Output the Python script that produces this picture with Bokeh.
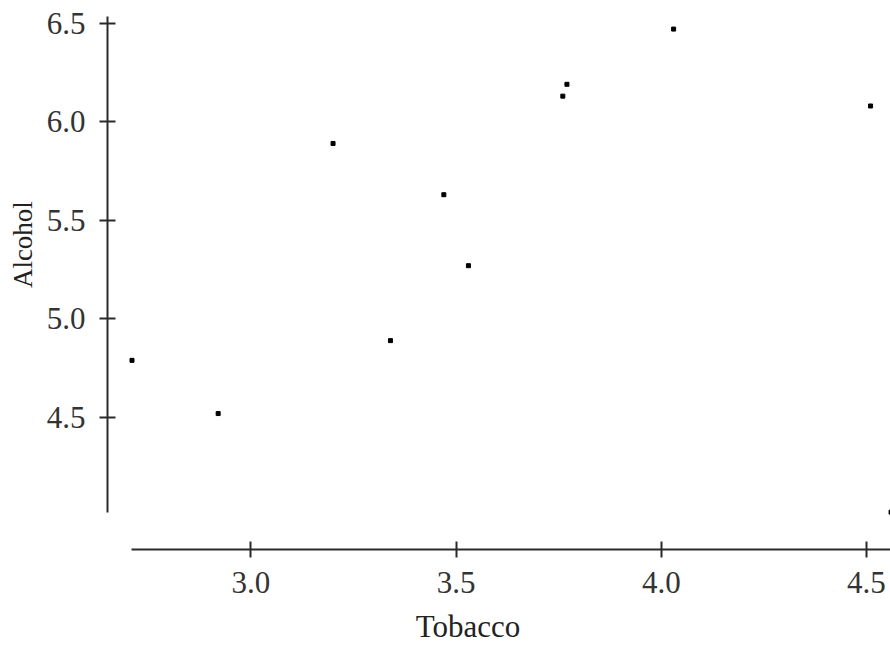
from bokeh.plotting import figure
from bokeh.models import Range1d, FixedTicker, PrintfTickFormatter, ColumnDataSource
from bokeh.embed import file_html
from bokeh.resources import INLINE

regions = ["North", "Yorkshire", "Northeast", "East Midlands", "West Midlands",
           "East Anglia", "Southeast", "Southwest", "Wales", "Scotland",
           "Northern Ireland"]
tobacco = [4.03, 3.76, 3.77, 3.34, 3.47, 2.92, 3.20, 2.71, 3.53, 4.51, 4.56]
alcohol = [6.47, 6.13, 6.19, 4.89, 5.63, 4.52, 5.89, 4.79, 5.27, 6.08, 4.02]
x_ticks = [3.0, 3.5, 4.0, 4.5]
y_ticks = [4.5, 5.0, 5.5, 6.0, 6.5]
x_title = "Tobacco"
y_title = "Alcohol"

src = ColumnDataSource(dict(region=regions, tobacco=tobacco, alcohol=alcohol))

p = figure(width=890, height=652, output_backend="svg", toolbar_location=None,
           x_range=Range1d(2.6503, 4.5586), y_range=Range1d(3.8305, 6.6151),
           min_border_left=107, min_border_right=0, min_border_top=0,
           min_border_bottom=103)
p.outline_line_color = None
p.grid.visible = False
p.background_fill_color = "white"
p.border_fill_color = "white"

p.scatter("tobacco", "alcohol", source=src, marker="square", size=4,
          fill_color="black", line_color="black")

FONT = "Liberation Serif"
for ax in (p.xaxis[0], p.yaxis[0]):
    ax.axis_line_color = "#2a2a2a"
    ax.axis_line_width = 2
    ax.major_tick_line_color = "#2a2a2a"
    ax.major_tick_line_width = 2
    ax.major_tick_in = 8
    ax.major_tick_out = 8
    ax.minor_tick_line_color = None
    ax.major_label_text_font = FONT
    ax.major_label_text_font_size = "31px"
    ax.major_label_text_color = "#333333"
    ax.axis_label_text_font = FONT
    ax.axis_label_text_font_style = "normal"
    ax.axis_label_text_color = "#222222"
    ax.formatter = PrintfTickFormatter(format="%.1f")

p.xaxis.ticker = FixedTicker(ticks=x_ticks)
p.yaxis.ticker = FixedTicker(ticks=y_ticks)
p.xaxis.bounds = (min(tobacco), 4.5586)
p.yaxis.bounds = (min(alcohol), 6.535)

# titles are centred on the frame; non-breaking padding shifts them to
# where the reference has them (x title left, y title up)
NB = "\u00a0"
p.xaxis.axis_label = x_title + NB * 8
p.yaxis.axis_label = NB * 9 + y_title
p.xaxis.axis_label_text_font_size = "31px"
p.yaxis.axis_label_text_font_size = "27px"
p.xaxis.major_label_standoff = 14
p.yaxis.major_label_standoff = 14
p.xaxis.axis_label_standoff = 13
p.yaxis.axis_label_standoff = 6

open("out.html", "w").write(file_html(p, INLINE))
